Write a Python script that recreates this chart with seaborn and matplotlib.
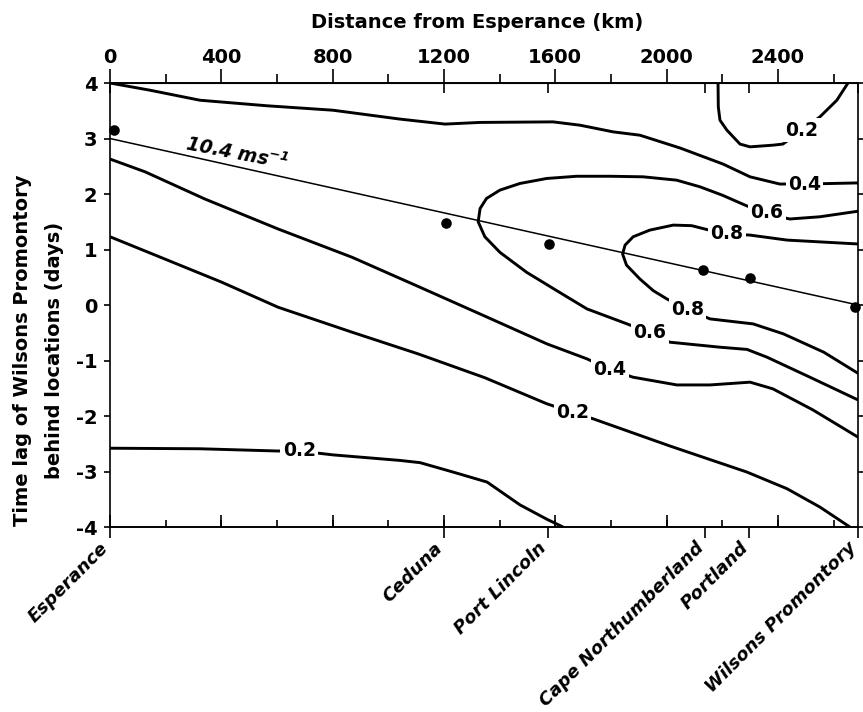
import numpy as np
import pandas as pd
import matplotlib
matplotlib.use("Agg")
import matplotlib.pyplot as plt
import seaborn as sns
from matplotlib.ticker import MultipleLocator, FixedLocator, NullFormatter
from matplotlib.transforms import ScaledTranslation

sns.set_style("ticks")
plt.rcParams['font.family'] = ['DejaVu Sans']
plt.rcParams['font.weight'] = 'bold'
plt.rcParams['axes.unicode_minus'] = False
plt.rcParams['text.color'] = 'black'
plt.rcParams['xtick.color'] = 'black'
plt.rcParams['ytick.color'] = 'black'
plt.rcParams['axes.labelcolor'] = 'black'
plt.rcParams['axes.edgecolor'] = 'black'
plt.rcParams['mathtext.fontset'] = 'custom'
plt.rcParams['mathtext.rm'] = 'DejaVu Sans:italic:bold'
plt.rcParams['mathtext.it'] = 'DejaVu Sans:italic:bold'
plt.rcParams['mathtext.bf'] = 'DejaVu Sans:italic:bold'

# ---------------- data ----------------
stations = ["Esperance", "Ceduna", "Port Lincoln", "Cape Northumberland",
            "Portland", "Wilsons Promontory"]
station_km = [0, 1201, 1575, 2138, 2298, 2688]

# lag of peak correlation at each station (dots)
peak_km = [16, 1207, 1577, 2130, 2300, 2677]
peak_lag = [3.15, 1.48, 1.10, 0.63, 0.49, -0.04]

distance_ticks = [0, 400, 800, 1200, 1600, 2000, 2400]
lag_ticks = [-4, -3, -2, -1, 0, 1, 2, 3, 4]

# 10.4 m/s propagation line
speed_km = [0, 2688]
speed_lag = [3.0, 0.0]

# correlation contour lines (distance km, lag days)
c04_top_km = [0, 144, 323, 564, 801, 1042, 1204, 1330, 1592, 1689, 1808, 1904,
              2048, 2203, 2300, 2407, 2500, 2688]
c04_top_lag = [4.0, 3.87, 3.69, 3.59, 3.51, 3.35, 3.26, 3.29, 3.30, 3.24, 3.12,
               3.06, 2.83, 2.54, 2.31, 2.18, 2.18, 2.20]

c02_top_km = [2185, 2186, 2192, 2217, 2264, 2300, 2382, 2418, 2487, 2551, 2612, 2652]
c02_top_lag = [4.0, 3.57, 3.33, 3.15, 2.90, 2.85, 2.88, 2.90, 3.15, 3.39, 3.69, 4.0]

c06_km = [2688, 2515, 2361, 2289, 2192, 2012, 1940, 1858, 1714, 1605, 1497, 1401,
          1347, 1323, 1330, 1353, 1401, 1473, 1569, 1677, 1797, 1916, 2036, 2120,
          2200, 2282, 2361, 2443, 2551, 2688]
c06_lag = [-1.71, -1.30, -0.94, -0.80, -0.76, -0.67, -0.50, -0.34, -0.07, 0.26,
           0.59, 0.95, 1.23, 1.50, 1.74, 1.92, 2.07, 2.19, 2.28, 2.32, 2.32, 2.31,
           2.25, 2.13, 1.98, 1.80, 1.64, 1.55, 1.59, 1.69]

c08_km = [2688, 2565, 2420, 2311, 2156, 2077, 2001, 1952, 1904, 1856, 1842, 1851,
          1880, 1940, 2024, 2090, 2145, 2217, 2300, 2433, 2688]
c08_lag = [-1.23, -0.85, -0.52, -0.34, -0.25, -0.08, 0.11, 0.26, 0.47, 0.72, 0.92,
           1.08, 1.23, 1.35, 1.44, 1.43, 1.36, 1.28, 1.26, 1.17, 1.10]

c04_mid_km = [0, 126, 341, 604, 870, 1096, 1347, 1570, 1714, 1797, 1879, 2037,
              2156, 2300, 2382, 2526, 2688]
c04_mid_lag = [2.63, 2.40, 1.91, 1.37, 0.86, 0.36, -0.20, -0.70, -0.97, -1.16,
               -1.30, -1.44, -1.44, -1.39, -1.51, -1.89, -2.38]

c02_mid_km = [0, 162, 402, 604, 870, 1107, 1347, 1570, 1660, 1736, 2012, 2289,
              2433, 2551, 2659]
c02_mid_lag = [1.23, 0.90, 0.41, -0.04, -0.49, -0.88, -1.31, -1.78, -1.93, -2.05,
               -2.54, -3.01, -3.31, -3.64, -4.0]

c02_low_km = [0, 323, 600, 680, 801, 1042, 1114, 1233, 1355, 1473, 1570, 1628]
c02_low_lag = [-2.58, -2.59, -2.63, -2.63, -2.70, -2.80, -2.84, -3.01, -3.19,
               -3.60, -3.86, -4.0]

# contour labels
label_text = ["0.2", "0.4", "0.6", "0.8", "0.8", "0.6", "0.4", "0.2", "0.2"]
label_km = [2487, 2495, 2361, 2217, 2075, 1940, 1797, 1662, 680]
label_lag = [3.15, 2.18, 1.66, 1.28, -0.08, -0.49, -1.16, -1.93, -2.63]

# ---------------- build tables ----------------
segments = [
    ("0.4 top", c04_top_km, c04_top_lag),
    ("0.2 top", c02_top_km, c02_top_lag),
    ("0.6", c06_km, c06_lag),
    ("0.8", c08_km, c08_lag),
    ("0.4 mid", c04_mid_km, c04_mid_lag),
    ("0.2 mid", c02_mid_km, c02_mid_lag),
    ("0.2 low", c02_low_km, c02_low_lag),
]
contour_df = pd.concat(
    [pd.DataFrame({"distance": k, "lag": l, "segment": name}) for name, k, l in segments],
    ignore_index=True)
speed_df = pd.DataFrame({"distance": speed_km, "lag": speed_lag})
peak_df = pd.DataFrame({"distance": peak_km, "lag": peak_lag, "station": stations})

# ---------------- figure ----------------
fig = plt.figure(figsize=(8.63, 7.12), dpi=100)
ax = fig.add_axes([0.1275, 0.2598, 0.8667, 0.6236])

sns.lineplot(data=contour_df, x="distance", y="lag", units="segment",
             estimator=None, sort=False, color="black", linewidth=2.1, ax=ax,
             zorder=2)
sns.lineplot(data=speed_df, x="distance", y="lag", estimator=None, sort=False,
             color="black", linewidth=1.1, ax=ax, zorder=2)
sns.scatterplot(data=peak_df, x="distance", y="lag", color="black", s=58,
                edgecolor="black", linewidth=0, ax=ax, zorder=4, clip_on=False)

for t, k, l in zip(label_text, label_km, label_lag):
    ax.text(k, l, t, ha="center", va="center", fontsize=13.5, fontweight="bold",
            zorder=5, bbox=dict(boxstyle="square,pad=0.12", fc="white", ec="none"))

ax.text(456, 2.74, r"10.4 ms$^{\mathrm{-1}}$", ha="center", va="center", rotation=-11,
        fontsize=13.5, fontweight="bold", fontstyle="italic", zorder=5)

ax.set_xlim(0, 2688)
ax.set_ylim(-4, 4)
ax.set_xlabel("")
ax.set_ylabel("")

for sp in ax.spines.values():
    sp.set_visible(True)
    sp.set_linewidth(1.2)
    sp.set_color("black")

# bottom axis: station ticks outward, 200 km ticks inward
ax.xaxis.set_major_locator(FixedLocator(station_km))
ax.set_xticklabels(stations, rotation=45, ha="right", va="center",
                   rotation_mode="anchor", fontsize=13, fontweight="bold",
                   fontstyle="italic")
ax.xaxis.set_minor_locator(MultipleLocator(200))
ax.tick_params(axis="x", which="major", direction="out", length=8, width=1.2,
               pad=5, bottom=True, top=False)
ax.tick_params(axis="x", which="minor", direction="in", length=5, width=1.2,
               bottom=True, top=False)
for lbl in ax.get_xticklabels():
    lbl.set_transform(lbl.get_transform() + ScaledTranslation(-3 / 72, 0, fig.dpi_scale_trans))

bot2 = ax.secondary_xaxis("bottom")
bot2.xaxis.set_major_locator(FixedLocator(distance_ticks))
bot2.xaxis.set_major_formatter(NullFormatter())
bot2.tick_params(axis="x", which="both", direction="in", length=9, width=1.2)
bot2.spines["bottom"].set_linewidth(1.2)

# top axis: distance labels
top = ax.secondary_xaxis("top")
top.xaxis.set_major_locator(FixedLocator(distance_ticks))
top.xaxis.set_minor_locator(MultipleLocator(200))
top.set_xticklabels([str(v) for v in distance_ticks], fontsize=14, fontweight="bold")
top.tick_params(axis="x", which="major", direction="out", length=10, width=1.2, pad=1.5)
top.tick_params(axis="x", which="minor", direction="out", length=6.5, width=1.2)
top.spines["top"].set_linewidth(1.2)

top2 = ax.secondary_xaxis("top")
top2.xaxis.set_major_locator(FixedLocator(station_km))
top2.xaxis.set_major_formatter(NullFormatter())
top2.tick_params(axis="x", which="both", direction="in", length=7, width=1.2)

# y axis
ax.set_yticks(lag_ticks)
ax.set_yticklabels([str(v) for v in lag_ticks], fontsize=14, fontweight="bold")
ax.tick_params(axis="y", which="major", direction="out", length=4.5, width=1.2,
               pad=4.5, left=True, right=True)

fig.text(477 / 863, 1 - 23 / 712, "Distance from Esperance (km)", ha="center",
         va="center", fontsize=14, fontweight="bold")
fig.text(23 / 863, 1 - 350 / 712, "Time lag of Wilsons Promontory", rotation=90,
         ha="center", va="center", fontsize=14, fontweight="bold")
fig.text(55 / 863, 1 - 350 / 712, "behind locations (days)", rotation=90,
         ha="center", va="center", fontsize=14, fontweight="bold")

fig.savefig("out.png", dpi=100)
